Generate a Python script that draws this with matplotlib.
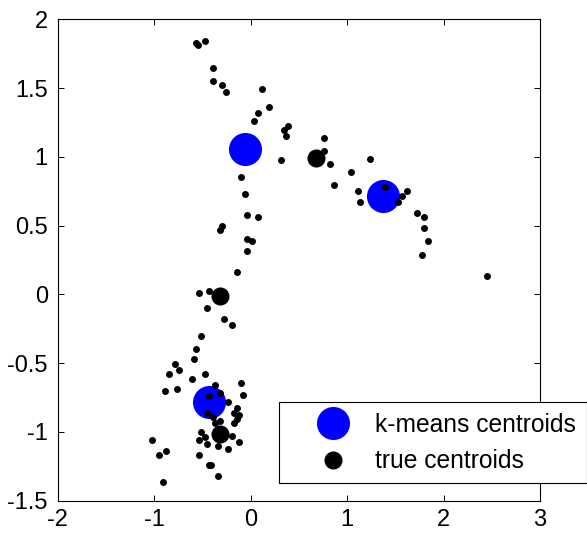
import matplotlib
matplotlib.use("Agg")
import matplotlib.pyplot as plt

plt.rcParams['font.family'] = ['Liberation Sans', 'DejaVu Sans']
plt.rcParams['axes.unicode_minus'] = False

# data points
pts_x = [-0.565, -0.547, -0.468, -0.392, -0.392, -0.295, -0.254, 0.119, 0.195, 0.075,
         0.039, 0.392, 0.350, 0.371, 0.313, 0.762, 0.762, 0.824, -0.098, 1.235,
         1.038, 0.862, 1.114, 1.135, 1.391, 1.625, 1.567, 1.528, 1.722, 1.801,
         1.801, 1.843, 1.780, -0.057, -0.039, 0.078, -0.295, -0.316, -0.039, 0.019,
         -0.039, -0.137, 2.448, -0.531, -0.430, -0.451, -0.275, -0.195, -0.513, -0.568,
         -0.589, -0.785, -0.744, -0.845, -0.468, -0.609, -0.883, -0.765, -0.098, -0.371,
         -0.316, -0.078, -0.430, -0.236, -0.137, -0.451, -0.392, -0.174, -0.116, -0.137,
         -0.174, -0.313, -0.371, -0.510, -0.531, -0.472, -0.451, -0.195, -0.116, -0.334,
         -0.236, -1.018, -0.879, -0.945, -0.531, -0.433, -0.412, -0.334, -0.904]
pts_y = [1.825, 1.811, 1.840, 1.646, 1.551, 1.524, 1.471, 1.495, 1.360, 1.319,
         1.263, 1.224, 1.195, 1.153, 0.975, 1.139, 1.044, 0.948, 0.855, 0.986,
         0.892, 0.795, 0.753, 0.671, 0.780, 0.753, 0.713, 0.671, 0.591, 0.562,
         0.480, 0.385, 0.288, 0.727, 0.577, 0.562, 0.495, 0.468, 0.400, 0.385,
         0.315, 0.164, 0.135, 0.012, 0.026, -0.097, -0.180, -0.221, -0.303, -0.400,
         -0.470, -0.509, -0.551, -0.577, -0.577, -0.618, -0.701, -0.689, -0.647, -0.662,
         -0.715, -0.730, -0.741, -0.785, -0.824, -0.865, -0.895, -0.865, -0.877, -0.909,
         -0.938, -0.921, -0.938, -1.001, -1.059, -1.035, -1.086, -1.033, -1.072, -1.101,
         -1.127, -1.059, -1.139, -1.171, -1.171, -1.239, -1.239, -1.321, -1.363]

kmeans_x = [-0.057, 1.370, -0.430]
kmeans_y = [1.059, 0.713, -0.783]
true_x = [0.676, -0.313, -0.316]
true_y = [0.993, -0.012, -1.016]

xticks = [-2, -1, 0, 1, 2, 3]
xticklabels = ['-2', '-1', '0', '1', '2', '3']
yticks = [-1.5, -1, -0.5, 0, 0.5, 1, 1.5, 2]
yticklabels = ['-1.5', '-1', '-0.5', '0', '0.5', '1', '1.5', '2']

W, H = 587, 535
fig = plt.figure(figsize=(W / 100, H / 100), dpi=100)
ax = fig.add_axes([57.5 / W, 1 - 500.7 / H, (540 - 57.5) / W, (500.7 - 19.3) / H])

ax.plot(kmeans_x, kmeans_y, 'o', color='#0000ff', markersize=23.8, markeredgewidth=0,
        label='k-means centroids', zorder=2)
ax.plot(true_x, true_y, 'o', color='black', markersize=13, markeredgewidth=0,
        label='true centroids', zorder=3)
ax.plot(pts_x, pts_y, 'o', color='black', markersize=5, markeredgewidth=0, zorder=4)

ax.set_xlim(-2, 3)
ax.set_ylim(-1.5, 2)
ax.set_xticks(xticks)
ax.set_xticklabels(xticklabels)
ax.set_yticks(yticks)
ax.set_yticklabels(yticklabels)
ax.tick_params(direction='in', length=4, width=0.7, top=True, right=True,
               labelsize=17, colors='black')
ax.tick_params(axis='y', pad=7)
ax.tick_params(axis='x', pad=6)
for s in ax.spines.values():
    s.set_linewidth(0.8)
    s.set_color('black')

leg = ax.legend(loc='upper left', bbox_to_anchor=(279 / W, 1 - 402.3 / H),
                bbox_transform=fig.transFigure, borderaxespad=0, fontsize=17.7,
                numpoints=1, handlelength=3.55, handletextpad=-0.05, borderpad=0.42,
                labelspacing=0.51, fancybox=False, framealpha=1, edgecolor='black')
leg.get_frame().set_linewidth(0.8)

fig.savefig('out.png', dpi=100)
